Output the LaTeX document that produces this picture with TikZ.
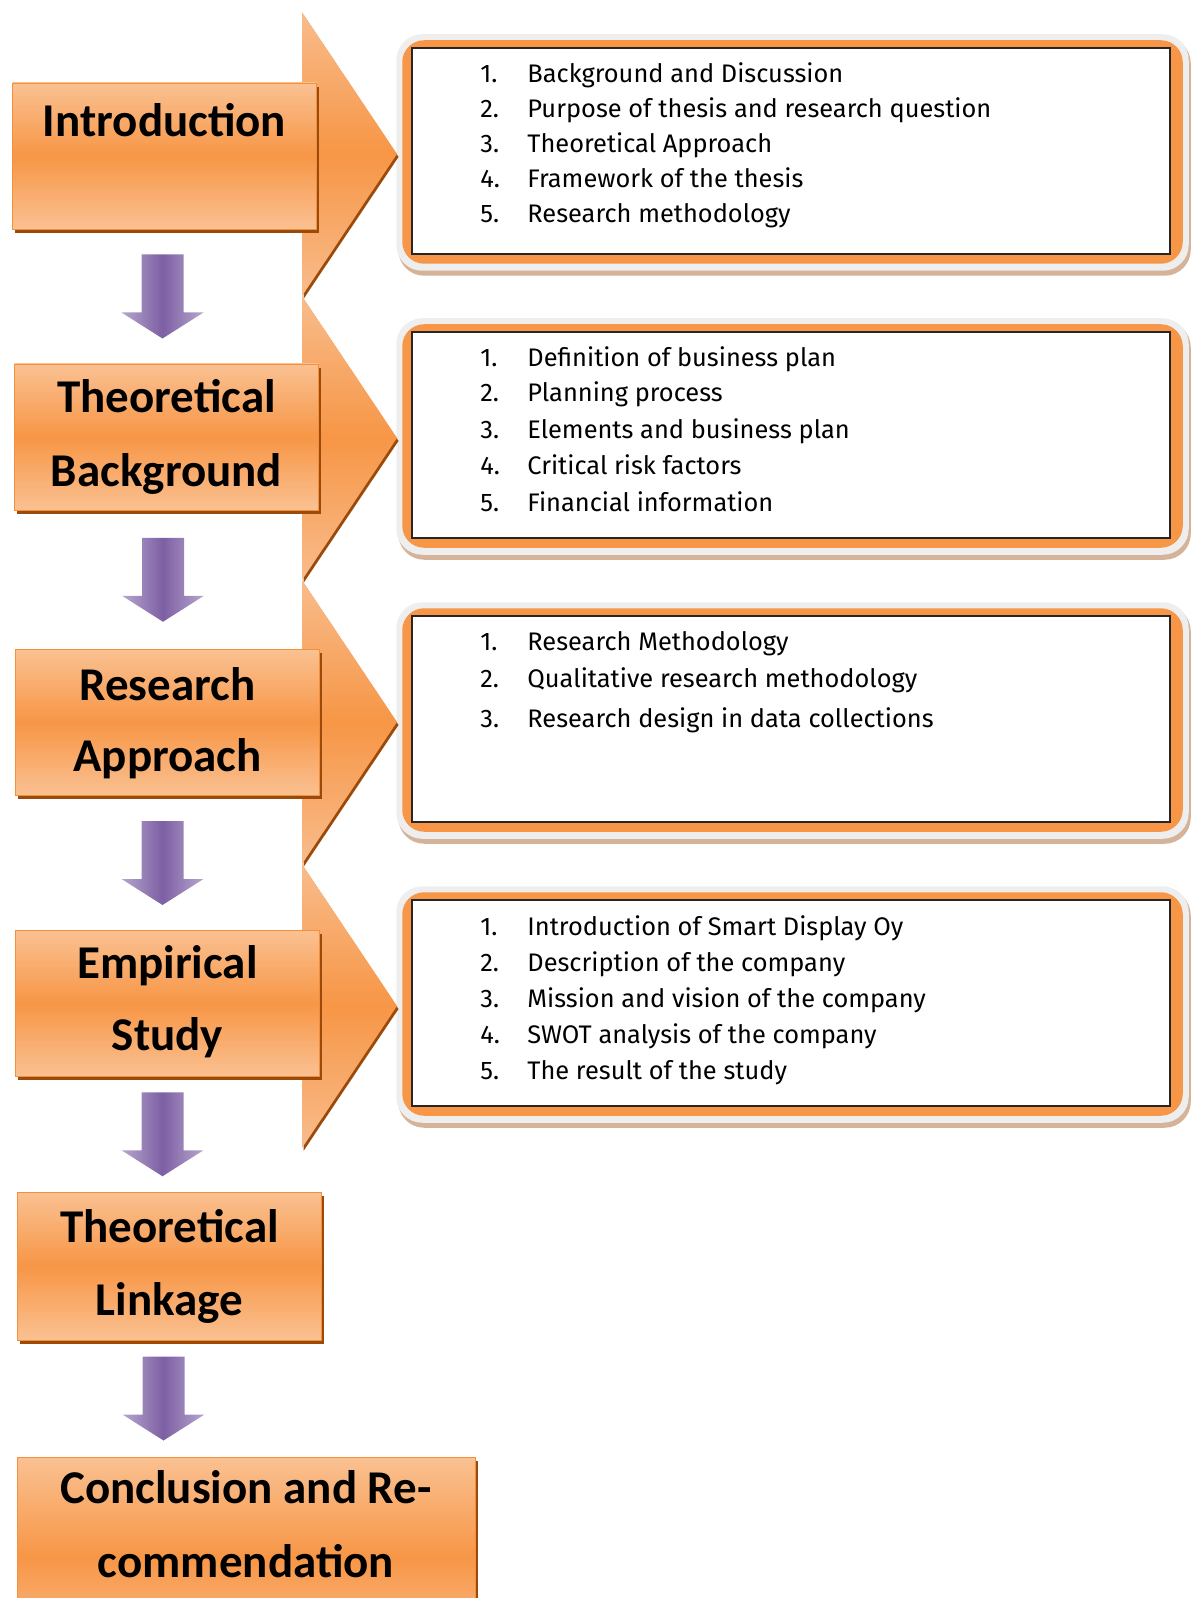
\documentclass[tikz,border=0pt]{standalone}
\usepackage{fontspec}
\setmainfont{Fira Sans}
\newfontfamily\headfont{Carlito}
\usetikzlibrary{shadows,backgrounds,calc}

\definecolor{ormid}{HTML}{F79646}
\definecolor{orlight}{HTML}{FAC192}
\definecolor{ordark}{HTML}{9C4A0A}
\definecolor{orline}{HTML}{F3903E}
\definecolor{chevlight}{HTML}{F8BC8C}
\definecolor{viomid}{HTML}{7D5FA3}
\definecolor{violight}{HTML}{B6A6CE}
\definecolor{glowgrey}{HTML}{EEEEEE}
\definecolor{glowshadow}{HTML}{D4B398}

\newcommand{\itemnum}[1]{\makebox[23.5pt][l]{#1}}
\newcommand{\listframe}[1]{%
  \fill[glowshadow, rounded corners=13pt] ($(#1.south west)+(-13,21)$) rectangle ($(#1.north east)+(20,-10)$);
  \fill[glowgrey, rounded corners=13pt] ($(#1.south west)+(-15,16)$) rectangle ($(#1.north east)+(18,-13)$);
  \fill[ormid, rounded corners=11pt] ($(#1.south west)+(-9,9)$) rectangle ($(#1.north east)+(12,-7)$);
}

\tikzset{
  headbox/.style={rectangle, draw=orline, line width=0.4pt, inner sep=0pt,
    minimum width=152pt, minimum height=73pt,
    top color=orlight, bottom color=orlight, middle color=ormid,
    drop shadow={shadow xshift=1.3pt, shadow yshift=-1.8pt, fill=ordark, opacity=1}},
  headtext/.style={font=\headfont\bfseries\fontsize{23.5}{37}\selectfont, anchor=base, inner sep=0pt},
  listbox/.style={rectangle, draw=black!85, line width=0.75pt, fill=white,
    minimum width=379pt, minimum height=103pt},
  listitem/.style={font=\fontsize{12.7}{15}\selectfont, anchor=base west, inner sep=0pt},
  vioarrow/.pic={
    \shade[left color=violight, right color=violight, middle color=viomid]
      (-21,-42) -- (21,-42) -- (21,16) -- (41,16) -- (0,42) -- (-41,16) -- (-21,16) -- cycle;
  }
}

\begin{document}
\begin{tikzpicture}[x=0.5pt, y=-0.5pt]
  \useasboundingbox (0,0) rectangle (1199,1598);
  \clip (0,0) rectangle (1199,1598);

  % Drawing chevrons
  \fill[ordark, shift={(1.5,3)}] (302,12) -- (397,154) -- (302,296) -- cycle;
  \shade[top color=chevlight, bottom color=chevlight, middle color=ormid] (302,12) -- (397,154) -- (302,296) -- cycle;
  \fill[ordark, shift={(1.5,3)}] (302,296) -- (397,438) -- (302,580) -- cycle;
  \shade[top color=chevlight, bottom color=chevlight, middle color=ormid] (302,296) -- (397,438) -- (302,580) -- cycle;
  \fill[ordark, shift={(1.5,3)}] (302,580) -- (397,722) -- (302,864) -- cycle;
  \shade[top color=chevlight, bottom color=chevlight, middle color=ormid] (302,580) -- (397,722) -- (302,864) -- cycle;
  \fill[ordark, shift={(1.5,3)}] (302,864) -- (397,1006) -- (302,1148) -- cycle;
  \shade[top color=chevlight, bottom color=chevlight, middle color=ormid] (302,864) -- (397,1006) -- (302,1148) -- cycle;

  % Drawing boxes on the left
  \node[headbox, minimum height=73pt] (intro) at (164.5,156) {};
  \node[headbox] (theo) at (166.5,437) {};
  \node[headbox] (research) at (167.5,722.5) {};
  \node[headbox] (empirical) at (167.5,1003.5) {};
  \node[headbox, minimum height=74pt] (linkage) at (169.5,1266) {};
  \node[headbox, minimum width=229pt, minimum height=100pt] (concl) at (246,1557) {};

  % Marking texts of the boxes
  \node[headtext] (introA) at (164.5,137) {Introduction};
  \node[headtext] (theoA) at (166.5,413) {Theoretical};
  \node[headtext] (theoB) at (166.5,487) {Background};
  \node[headtext] (researchA) at (167.5,700) {Research};
  \node[headtext] (researchB) at (167.5,771) {Approach};
  \node[headtext] (empiricalA) at (167.5,978) {Empirical};
  \node[headtext] (empiricalB) at (167.5,1050) {Study};
  \node[headtext] (linkageA) at (169.5,1242) {Theoretical};
  \node[headtext] (linkageB) at (169.5,1315) {Linkage};
  \node[headtext] (conclA) at (246,1503) {Conclusion and Re-};
  \node[headtext] (conclB) at (246,1577) {commendation};

  % Drawing arrows between boxes
  \pic at ($(intro.south)!0.5!(theo.north)+(-3,0)$) {vioarrow};
  \pic at ($(theo.south)!0.5!(research.north)+(-4,0)$) {vioarrow};
  \pic at ($(research.south)!0.5!(empirical.north)+(-5,0)$) {vioarrow};
  \pic at ($(empirical.south)!0.5!(linkage.north)+(-6,0)$) {vioarrow};
  \pic at ($(linkage.south)!0.5!(linkage.south |- concl.north)+(-6,0)$) {vioarrow};

  % Drawing boxes on the right
  \node[listbox] (list1) at (791,151) {};
  \node[listbox] (list2) at (791,435) {};
  \node[listbox] (list3) at (791,719) {};
  \node[listbox] (list4) at (791,1003) {};
  \begin{pgfonlayer}{background}
    \listframe{list1}
    \listframe{list2}
    \listframe{list3}
    \listframe{list4}
  \end{pgfonlayer}

  % Marking items of list 1
  \node[listitem] (introI) at (480,83) {\itemnum{1.}Background and Discussion};
  \node[listitem] (introII) at (480,118) {\itemnum{2.}Purpose of thesis and research question};
  \node[listitem] (introIII) at (480,153) {\itemnum{3.}Theoretical Approach};
  \node[listitem] (introIV) at (480,188) {\itemnum{4.}Framework of the thesis};
  \node[listitem] (introV) at (480,223) {\itemnum{5.}Research methodology};

  % Marking items of list 2
  \node[listitem] (theoI) at (480,367) {\itemnum{1.}Definition of business plan};
  \node[listitem] (theoII) at (480,402) {\itemnum{2.}Planning process};
  \node[listitem] (theoIII) at (480,439) {\itemnum{3.}Elements and business plan};
  \node[listitem] (theoIV) at (480,475) {\itemnum{4.}Critical risk factors};
  \node[listitem] (theoV) at (480,511) {\itemnum{5.}Financial information};

  % Marking items of list 3
  \node[listitem] (researchI) at (480,650) {\itemnum{1.}Research Methodology};
  \node[listitem] (researchII) at (480,687) {\itemnum{2.}Qualitative research methodology};
  \node[listitem] (researchIII) at (480,727) {\itemnum{3.}Research design in data collections};

  % Marking items of list 4
  \node[listitem] (empiricalI) at (480,935) {\itemnum{1.}Introduction of Smart Display Oy};
  \node[listitem] (empiricalII) at (480,971) {\itemnum{2.}Description of the company};
  \node[listitem] (empiricalIII) at (480,1007) {\itemnum{3.}Mission and vision of the company};
  \node[listitem] (empiricalIV) at (480,1043) {\itemnum{4.}SWOT analysis of the company};
  \node[listitem] (empiricalV) at (480,1079) {\itemnum{5.}The result of the study};
\end{tikzpicture}
\end{document}
